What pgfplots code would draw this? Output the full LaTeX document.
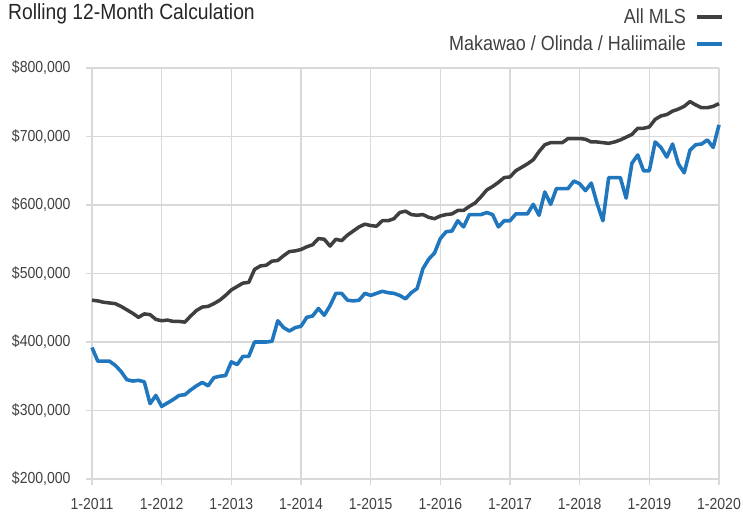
\documentclass[border=0pt]{standalone}
\usepackage{pgfplots}
\pgfplotsset{compat=1.18}
\usepackage{pgfplotstable}
\usepackage{fontspec}
\setmainfont{Liberation Sans}[FakeStretch=0.88]
\definecolor{mlsgray}{HTML}{3F3F3F}
\definecolor{mauiblue}{HTML}{2177BE}
\definecolor{gridgray}{HTML}{D9D9D9}
\definecolor{txt}{HTML}{404040}

% All MLS, monthly Jan 2011 .. Jan 2020, in $1,000
\pgfplotstableread{
v
461
460
458
457
456
452
447
442
436
441
440
433
431
432
430
430
429
438
446
451
452
456
461
468
476
481
486
487
506
511
512
518
519
526
532
533
535
539
542
551
550
540
550
548
556
562
568
572
570
569
577
577
580
589
591
586
585
586
582
580
584
586
587
592
592
598
603
612
622
627
633
640
641
650
655
660
666
678
688
691
691
691
697
697
697
696
692
692
691
690
692
695
699
703
712
712
714
725
730
732
737
740
744
751
746
742
742
744
748
}\allmls

% Makawao / Olinda / Haliimaile, in $1,000
\pgfplotstableread{
v
392
372
372
372
366
357
345
343
344
342
310
322
306
311
316
322
323
330
336
341
336
348
350
351
371
367
379
379
400
400
400
401
431
421
416
421
423
436
438
449
439
453
471
471
461
460
461
471
468
471
474
472
471
468
463
472
478
507
521
530
551
561
562
577
568
586
586
586
589
586
568
577
577
587
587
587
601
585
619
601
624
624
624
635
631
621
632
602
577
640
640
640
610
661
673
650
650
692
684
670
689
660
647
680
688
689
695
684
717
}\maui

\begin{document}
\begin{tikzpicture}[x=1bp,y=1bp]
\path[use as bounding box] (0,0) rectangle (743,515);
\begin{axis}[
  at={(92bp,36bp)}, anchor=south west,
  width=627bp, height=411bp, scale only axis,
  xmin=0, xmax=108, ymin=200, ymax=800,
  xtick={0,12,...,108},
  xticklabels={1-2011,1-2012,1-2013,1-2014,1-2015,1-2016,1-2017,1-2018,1-2019,1-2020},
  ytick={200,300,...,800},
  yticklabels={{\$200,000},{\$300,000},{\$400,000},{\$500,000},{\$600,000},{\$700,000},{\$800,000}},
  axis lines*=left,
  axis line style={gridgray, line width=1.5bp},
  grid=major,
  grid style={gridgray, line width=1.5bp},
  tick align=outside,
  major tick length=6bp,
  tick style={gridgray, line width=1.5bp},
  ticklabel style={font=\fontsize{16}{18}\selectfont, text=txt},
  xticklabel style={yshift=-10bp},
  yticklabel style={xshift=-12bp},
  clip=false,
]
\addplot[mlsgray, line width=3.5bp, line join=round, no markers] table[x expr=\coordindex, y=v] {\allmls};
\addplot[mauiblue, line width=3.6bp, line join=round, no markers] table[x expr=\coordindex, y=v] {\maui};
\end{axis}
\node[anchor=base west, font=\fontsize{22}{24}\selectfont, text=black!85, inner sep=0pt] at (8,495) {Rolling 12-Month Calculation};
\node[anchor=base east, font=\fontsize{20.5}{22}\selectfont, text=txt, inner sep=0pt] at (686,491) {All MLS};
\draw[mlsgray, line width=3.5bp] (697,498) -- (722,498);
\node[anchor=base east, font=\fontsize{20.5}{22}\selectfont, text=txt, inner sep=0pt] at (686,464) {Makawao / Olinda / Haliimaile};
\draw[mauiblue, line width=3.5bp] (697,471) -- (722,471);
\end{tikzpicture}
\end{document}
